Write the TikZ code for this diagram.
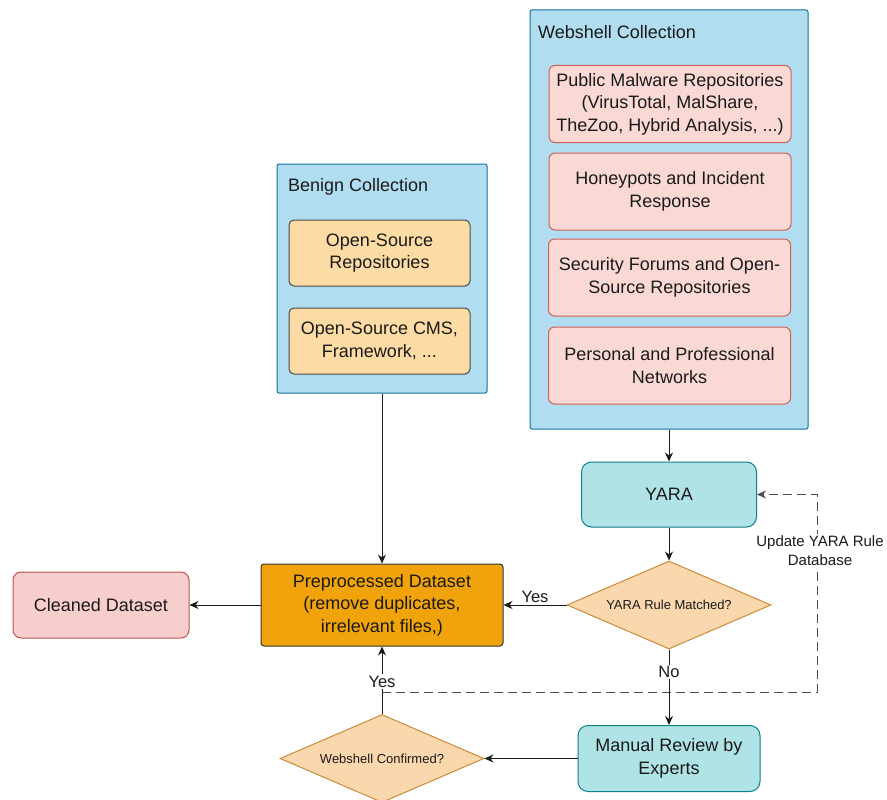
\documentclass[tikz,border=0pt]{standalone}
\usepackage{fontspec}
\setmainfont{Liberation Sans}
\usetikzlibrary{shapes.geometric,arrows.meta}

\definecolor{contFill}{HTML}{B1DDF0}
\definecolor{contLine}{HTML}{10739E}
\definecolor{srcFill}{HTML}{FCDCA4}
\definecolor{srcLine}{HTML}{4A4A4A}
\definecolor{malFill}{HTML}{FAD9D5}
\definecolor{malLine}{HTML}{D0605A}
\definecolor{cleanFill}{HTML}{F8CECC}
\definecolor{cleanLine}{HTML}{B85450}
\definecolor{tealFill}{HTML}{B0E3E6}
\definecolor{tealLine}{HTML}{0E8088}
\definecolor{decFill}{HTML}{FAD7AC}
\definecolor{decLine}{HTML}{C98A3A}
\definecolor{prepFill}{HTML}{F0A30A}
\definecolor{prepLine}{HTML}{333333}
\definecolor{loopLine}{HTML}{4D4D4D}
\definecolor{ink}{HTML}{1A1A1A}

\tikzset{
  base/.style={draw, line width=1pt, align=center, inner sep=1pt, text=ink,
    font=\fontsize{18}{22.5}\selectfont},
  container/.style={base, fill=contFill, draw=contLine, rounded corners=2pt},
  srcbox/.style={base, fill=srcFill, draw=srcLine, rounded corners=5pt,
    minimum width=181pt, minimum height=66pt},
  malbox/.style={base, fill=malFill, draw=malLine, rounded corners=6pt,
    minimum width=242pt, minimum height=77pt},
  tealbox/.style={base, fill=tealFill, draw=tealLine, rounded corners=10pt},
  decision/.style={base, diamond, fill=decFill, draw=decLine, aspect=2.32,
    minimum width=204pt, minimum height=88pt, inner sep=0pt,
    font=\fontsize{13}{16}\selectfont},
  title/.style={anchor=west, inner sep=0pt, text=ink, font=\fontsize{18}{22}\selectfont},
  flow/.style={line width=1pt, draw=ink, -{Stealth[length=9pt,width=8pt]}},
  loop/.style={flow, draw=loopLine, dash pattern=on 9pt off 5pt},
  tag/.style={fill=white, inner sep=1.5pt, text=ink, font=\fontsize{16.5}{19}\selectfont},
}

\begin{document}
\begin{tikzpicture}[x=1pt,y=-1pt]
  \useasboundingbox (0,0) rectangle (887,800);

  % benign sources
  \node[container, minimum width=210pt, minimum height=229pt] (benign) at (382,278.5) {};
  \node[title] (benignTitle) at (288,187) {Benign Collection};
  \node[srcbox] (osrepo) at (379.5,253) {Open-Source\\Repositories};
  \node[srcbox] (oscms) at (379.5,341) {Open-Source CMS,\\Framework, ...};

  % webshell sources
  \node[container, minimum width=278pt, minimum height=419pt] (webshell) at (669,219.5) {};
  \node[title] (webshellTitle) at (538,32) {Webshell Collection};
  \node[malbox] (pubmal) at (670,104) {Public Malware Repositories\\(VirusTotal, MalShare,\\TheZoo, Hybrid Analysis, ...)};
  \node[malbox] (honey) at (670,191.5) {Honeypots and Incident\\Response};
  \node[malbox] (secfor) at (669.5,277.5) {Security Forums and Open-\\Source Repositories};
  \node[malbox] (personal) at (669.5,365.5) {Personal and Professional\\Networks};

  % processing pipeline
  \node[tealbox, minimum width=175pt, minimum height=65pt] (yara) at (669,494.5) {YARA};
  \node[decision] (match) at (669,605) {YARA Rule Matched?};
  \node[base, fill=prepFill, draw=prepLine, rounded corners=3pt,
        minimum width=242pt, minimum height=82pt] (prep) at (382,605) {Preprocessed Dataset\\(remove duplicates,\\irrelevant files,)};
  \node[base, fill=cleanFill, draw=cleanLine, rounded corners=8pt,
        minimum width=176pt, minimum height=66pt] (clean) at (101,605) {Cleaned Dataset};
  \node[tealbox, minimum width=182pt, minimum height=66pt] (manual) at (669,758.5) {Manual Review by\\Experts};
  \node[decision] (confirm) at (382,758.5) {Webshell Confirmed?};

  % rule update feedback loop
  \coordinate (loopA) at (817,692);
  \coordinate (loopB) at (817,494.5);
  \draw[loop] (confirm.north |- loopA) -- (loopA) -- (loopB) -- (yara.east);
  \node[tag, align=center, font=\fontsize{15}{19}\selectfont] (updLabel) at (820,551) {Update YARA Rule\\Database};

  % main flow
  \draw[flow] (benign.south) -- (prep.north);
  \draw[flow] (webshell.south) -- (yara.north);
  \draw[flow] (yara.south) -- (match.north);
  \draw[flow] (match.west) -- node[above, inner sep=2pt, text=ink, font=\fontsize{16.5}{19}\selectfont] (yes1) {Yes} (prep.east);
  \draw[flow] (match.south) -- node[tag, pos=0.3] (noLabel) {No} (manual.north);
  \draw[flow] (manual.west) -- (confirm.east);
  \draw[flow] (confirm.north) -- node[tag, pos=0.48] (yes2) {Yes} (prep.south);
  \draw[flow] (prep.west) -- (clean.east);
\end{tikzpicture}
\end{document}
